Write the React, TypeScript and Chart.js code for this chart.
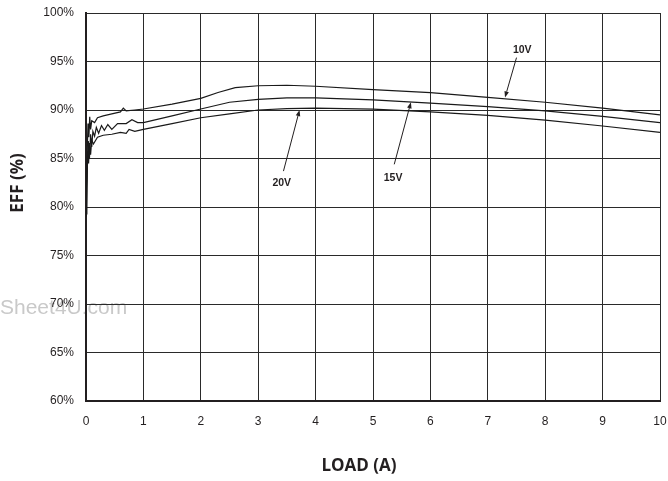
import React, { useEffect, useRef } from "react";
import { Chart, registerables } from "chart.js";

Chart.register(...registerables);

// ---- Data ----
const load10V = [0.005, 0.02, 0.035, 0.05, 0.065, 0.08, 0.1, 0.15, 0.2, 0.3, 0.45, 0.6, 0.65, 0.7, 0.85, 1.0, 1.5, 2.0, 2.3, 2.6, 3.0, 3.5, 4.0, 5.0, 6.0, 7.0, 8.0, 9.0, 10.0];
const eff10V = [79.5, 85.5, 88.6, 87.2, 89.3, 88.0, 88.9, 88.7, 89.2, 89.4, 89.6, 89.8, 90.2, 89.9, 90.0, 90.1, 90.6, 91.2, 91.8, 92.3, 92.5, 92.55, 92.45, 92.1, 91.8, 91.3, 90.8, 90.2, 89.5];

const load15V = [0.005, 0.02, 0.04, 0.06, 0.08, 0.1, 0.12, 0.15, 0.18, 0.22, 0.27, 0.32, 0.38, 0.45, 0.55, 0.7, 0.8, 0.9, 1.0, 1.5, 2.0, 2.5, 3.0, 3.5, 4.0, 5.0, 6.0, 7.0, 8.0, 9.0, 10.0];
const eff15V = [79.0, 83.5, 86.8, 85.0, 87.5, 86.2, 87.8, 87.3, 88.2, 87.6, 88.4, 87.9, 88.5, 88.0, 88.6, 88.6, 89.0, 88.7, 88.7, 89.4, 90.1, 90.8, 91.1, 91.25, 91.25, 91.05, 90.7, 90.35, 89.9, 89.35, 88.7];

const load20V = [0.005, 0.015, 0.03, 0.045, 0.06, 0.08, 0.1, 0.13, 0.2, 0.3, 0.45, 0.6, 0.7, 0.75, 0.85, 1.0, 1.5, 2.0, 2.5, 3.0, 3.5, 4.0, 5.0, 6.0, 7.0, 8.0, 9.0, 10.0];
const eff20V = [79.3, 82.0, 85.8, 84.5, 86.6, 85.4, 86.9, 86.5, 87.2, 87.4, 87.5, 87.7, 87.6, 88.0, 87.8, 88.0, 88.6, 89.2, 89.6, 90.0, 90.15, 90.2, 90.1, 89.8, 89.45, 88.95, 88.35, 87.7];

const seriesLabels = ["10V", "15V", "20V"];
// annotation: label position and arrow tail/tip in data units
const labelX = [7.6, 5.35, 3.41];
const labelY = [96.2, 83.0, 82.5];
const arrowFromX = [7.5, 5.37, 3.44];
const arrowFromY = [95.4, 84.4, 83.7];
const arrowToX = [7.3, 5.66, 3.72];
const arrowToY = [91.3, 90.8, 90.0];

const xTicks = [0, 1, 2, 3, 4, 5, 6, 7, 8, 9, 10];
const yTicks = [60, 65, 70, 75, 80, 85, 90, 95, 100];

const xTitle = "LOAD (A)";
const yTitle = "EFF (%)";
const watermark = "Sheet4U.com";

const toPoints = (xs: number[], ys: number[]) => xs.map((x, i) => ({ x, y: ys[i] }));

export default function App() {
  const ref = useRef<HTMLCanvasElement | null>(null);

  useEffect(() => {
    if (!ref.current) return;
    const decor = {
      id: "decor",
      beforeDraw(chart: any) {
        const ctx = chart.ctx;
        ctx.save();
        ctx.fillStyle = "#ffffff";
        ctx.fillRect(0, 0, chart.width, chart.height);
        ctx.fillStyle = "#c9c9c9";
        ctx.font = "21px 'Liberation Sans', Arial, sans-serif";
        ctx.textBaseline = "alphabetic";
        ctx.textAlign = "left";
        ctx.fillText(watermark, 0, 314);
        ctx.restore();
      },
      afterDraw(chart: any) {
        const ctx = chart.ctx;
        const xs = chart.scales.x;
        const ys = chart.scales.y;
        const area = chart.chartArea;
        ctx.save();
        // titles
        ctx.fillStyle = "#231f20";
        ctx.font = "bold 17px 'Open Sans', sans-serif";
        ctx.textAlign = "center";
        ctx.textBaseline = "middle";
        ctx.fillText(xTitle, (area.left + area.right) / 2 - 14, 466);
        ctx.save();
        ctx.translate(18, 183);
        ctx.rotate(-Math.PI / 2);
        ctx.fillText(yTitle, 0, 0);
        ctx.restore();
        // annotations
        ctx.font = "bold 10.5px 'Liberation Sans', Arial, sans-serif";
        ctx.strokeStyle = "#231f20";
        ctx.lineWidth = 1;
        for (let i = 0; i < seriesLabels.length; i++) {
          ctx.fillText(seriesLabels[i], xs.getPixelForValue(labelX[i]), ys.getPixelForValue(labelY[i]));
          const x1 = xs.getPixelForValue(arrowFromX[i]);
          const y1 = ys.getPixelForValue(arrowFromY[i]);
          const x2 = xs.getPixelForValue(arrowToX[i]);
          const y2 = ys.getPixelForValue(arrowToY[i]);
          const ang = Math.atan2(y2 - y1, x2 - x1);
          const hl = 6;
          const hw = 2.3;
          const bx = x2 - hl * Math.cos(ang);
          const by = y2 - hl * Math.sin(ang);
          ctx.beginPath();
          ctx.moveTo(x1, y1);
          ctx.lineTo(bx, by);
          ctx.stroke();
          ctx.beginPath();
          ctx.moveTo(x2, y2);
          ctx.lineTo(bx + hw * Math.sin(ang), by - hw * Math.cos(ang));
          ctx.lineTo(bx - hw * Math.sin(ang), by + hw * Math.cos(ang));
          ctx.closePath();
          ctx.fillStyle = "#231f20";
          ctx.fill();
        }
        ctx.restore();
      },
    };

    const lineStyle = {
      borderColor: "#1a1a1a",
      borderWidth: 1.2,
      pointRadius: 0,
      tension: 0,
      fill: false,
    };

    const chart = new Chart(ref.current, {
      type: "line",
      data: {
        datasets: [
          { label: seriesLabels[0], data: toPoints(load10V, eff10V), ...lineStyle },
          { label: seriesLabels[1], data: toPoints(load15V, eff15V), ...lineStyle },
          { label: seriesLabels[2], data: toPoints(load20V, eff20V), ...lineStyle },
        ],
      },
      options: {
        responsive: false,
        animation: false,
        layout: { padding: { top: 13, right: 8, left: 0, bottom: 0 } },
        plugins: { legend: { display: false }, tooltip: { enabled: false } },
        scales: {
          x: {
            type: "linear",
            min: 0,
            max: 10,
            afterFit: (s: any) => {
              s.height = 80;
              s.paddingLeft = 0;
              s.paddingRight = 0;
              s.paddingTop = 0;
              s.paddingBottom = 0;
            },
            afterBuildTicks: (s: any) => {
              s.ticks = xTicks.map((v) => ({ value: v }));
            },
            ticks: {
              color: "#231f20",
              font: { family: "'Liberation Sans', Arial, sans-serif", size: 12 },
              padding: 13,
              maxRotation: 0,
            },
            grid: { color: "#2a2a2a", lineWidth: 1, drawTicks: false },
            border: { color: "#231f20", width: 2 },
          },
          y: {
            type: "linear",
            min: 60,
            max: 100,
            afterFit: (s: any) => {
              s.width = 86;
              s.paddingLeft = 0;
              s.paddingRight = 0;
              s.paddingTop = 0;
              s.paddingBottom = 0;
            },
            afterBuildTicks: (s: any) => {
              s.ticks = yTicks.map((v) => ({ value: v }));
            },
            ticks: {
              color: "#231f20",
              font: { family: "'Liberation Sans', Arial, sans-serif", size: 12 },
              padding: 12,
              callback: (v: any) => v + "%",
            },
            grid: { color: "#2a2a2a", lineWidth: 1, drawTicks: false },
            border: { color: "#231f20", width: 2 },
          },
        },
      },
      plugins: [decor],
    });
    return () => chart.destroy();
  }, []);

  return (
    <div style={{ position: "fixed", left: 0, top: 0, width: 668, height: 481, background: "#fff" }}>
      <canvas ref={ref} width={668} height={481} style={{ width: 668, height: 481, display: "block" }} />
    </div>
  );
}
